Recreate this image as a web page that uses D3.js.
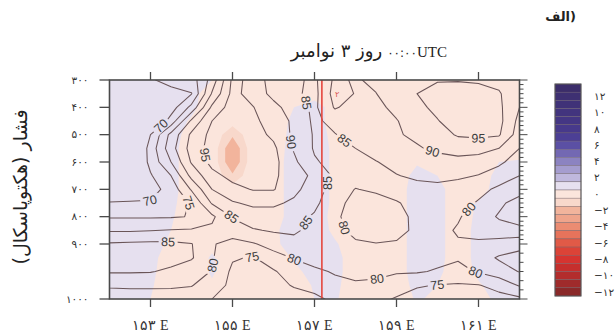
<!DOCTYPE html>
<html><head><meta charset="utf-8">
<script src="https://cdn.jsdelivr.net/npm/d3@7"></script>
<style>
body{margin:0;background:#fff;}
#wrap{position:relative;width:616px;height:333px;overflow:hidden;}
svg{display:block;position:absolute;left:0;top:0;}
.ov{position:absolute;white-space:nowrap;color:#222;line-height:1;}
.iso{unicode-bidi:isolate;}
</style>
</head><body>
<div id="wrap"><svg id="chart" width="616" height="333"></svg></div>
<script>
// ---------------- data ----------------
const lons = [152,152.5,153,153.5,154,154.5,155,155.5,156,156.5,157,157.5,158,158.5,159,159.5,160,160.5,161,161.5,162];
const pressures = [300,350,400,450,500,550,600,650,700,750,800,850,900,925,950,975,1000];

// relative humidity (%) rows = pressures, columns = lons
const rhRows = [
 [66,67.5,69.5,71.5,72.5,82,96,94,87,86,84,91,89.5,91,93,94.5,94.8,94.8,94.5,93.5,92],
 [64,65.5,67,68.5,69.8,85.5,96.5,93,88.5,86,83.5,92,89.8,89.9,93,95,96,96.5,96.5,95.5,91],
 [62,63,64.5,67.5,76.5,91,97.5,95.2,91.5,87.5,84,90.5,88,89,91,94,96,96.8,97,96,90],
 [61,61.5,63,72,86,95,97.5,96,93,89,84,86.5,87.5,88.5,89.8,92,94.8,97,97,96.5,88.5],
 [60,60.5,70,81.5,91,96.5,98.5,97,94,89,84.5,84.8,87,88.5,89.5,91,93,95.5,96,95.5,87.5],
 [59,61,72,83,92,97,99,97.5,96,89.5,84.5,84,85,87,88.5,89.5,91,92,92,90,85],
 [58,62,71.5,80,90.5,96.5,99,97.5,96.5,91,85.5,83.5,83.5,84.8,86.5,87.5,88,88.5,87.5,86,82.5],
 [60,64,69.5,75,86.5,93.5,96.5,97,96,92,89,84,82.5,83.5,84.8,85.8,86,85.8,84.8,82.5,80],
 [63,66,68,72,80.5,90,93.5,95.3,95.3,91.5,87,83,79.8,81,82.5,83.5,84,83,81.5,79,77],
 [70.5,70.6,70.5,71.5,75.5,85.5,89.5,91,91,89,86,82,78,77.5,79.5,82,83.5,82,79.5,76,73],
 [74.5,74.5,74.5,74.6,75.2,79,85.3,87.5,87.5,86.5,84.5,81,77.5,77,78,81.5,82.5,80.5,77.5,74.5,71.5],
 [79.5,79.5,79.8,80.2,80.5,81,83,84.6,85.5,85.5,84,81,79,77.5,78.5,81,81.5,79.5,78,77,77],
 [85.5,85.8,86,86,85.2,80.5,78,79.5,82,84,83.5,82,80.5,80.2,80.5,81.5,81.5,80.5,81,82,83],
 [87,87.5,87.5,87,85.5,80.5,75.5,74.6,78,80.3,82,83,83.5,83.5,83,82.5,81.5,80.5,83,85.5,87],
 [85.5,85.5,85.3,84,82,79.8,74,72.5,74.5,77.5,79,80.5,81,80.6,80.5,80.5,79.5,78.5,80.5,83,85.2],
 [80.5,80.5,80.5,80.3,80.2,78,73.5,71.5,73,75.5,76.5,78.5,79.5,79.5,77.5,75.5,74.8,74.5,74.8,76.5,80.5],
 [78,78.5,78.5,79,78,75,72,70.5,71,72.5,74,76,77,76.5,74.5,73,72.5,72.5,73,73.5,74]
];

// shaded field (colour-bar units), same grid
const shadeRows = [
 [1,1,1,1,1,0.5,0,0,0,0,0,0,0,0,0,0,0,0,0,0,0],
 [1,1,1,1,0.8,0,0,0,0,0,0,0,0,0,0,0,0,0,0,0,0],
 [1,1,1,1,0.7,0,0,0,0,0.5,1,0,0,0,0,0,0,0,0,0,0],
 [1,1,1,0.9,0.4,0,0,0,0,0.7,1,0,0,0,0,0,0,0,0,0,0],
 [1,1,1,0.8,0.2,0.3,-1.3,0.3,0,0.8,1,0.2,0,0,0,0,0,0,0,0,0],
 [1,1,1,0.8,0,0.3,-2.5,0.3,0,0.9,1,0.3,0,0,0,0,0,0,0,0,0],
 [1,1,1,0.8,0,0.3,-2.5,0.3,0,1,1,0.3,0,0,0,0.4,0,0,0,0.5,0.6],
 [1,1,1,0.8,0,0.3,-1.3,0.3,0,1,1,0.3,0,0,0,0.8,0.5,0,0,0.8,1],
 [1,1,1,0.8,0,0,0,0,0,1,1,0.3,0,0,0,1,0.8,0,0,1,1],
 [1,1,1,0.7,0,0,0,0,0,1,1,0.3,0,0,0,1,0.8,0,0.6,1,1],
 [1,1,1,0.6,0,0,0,0,0,1,1,0.2,0,0,0,1,0.8,0,0.7,1,1],
 [1,1,1,0.5,0,0,0,0,0.3,1,1,0.3,0,0,0,1,0.8,0,0.8,1,1],
 [1,1,0.9,0.3,0,0.3,0,0,0.3,0.9,1,0.6,0,0,0,1,0.8,0,0.8,1,1],
 [1,1,0.8,0,0,0.6,0,0,0,0.6,1,0.8,0,0,0,1,0.8,0,0.8,1,1],
 [1,1,0.7,0,0,0.6,0,0,0,0.3,0.8,0.8,0,0,0,1,0.7,0,0.7,1,1],
 [1,1,0.6,0,0,0.4,0,0,0,0,0.6,0.7,0,0,0,0.8,0.5,0,0.4,0.9,1],
 [1,1,0.5,0,0,0.2,0,0,0,0,0.5,0.6,0,0,0,0.6,0.3,0,0.2,0.7,0.9]
];

const rhLevels = [70,75,80,85,90,95];

// contour label anchors (lon, pressure, level)
const labelLon   = [153.30,152.99,153.96,154.33,156.43,156.84,157.43,156.77,155.01,153.43,154.48,155.48,156.48,157.70,159.89,160.99,157.94,160.79,160.96,158.52,159.99];
const labelP     = [475,750,746,574,527,380,684,820,794,893,938,924,933,527,556,530,830,776,942,962,971];
const labelLevel = [70,70,75,95,90,85,85,85,85,85,80,75,80,85,90,95,80,80,80,80,75];

const markerLon = 157.18;

const xTicks = [153,155,157,159,161];
const xTickLabels = ["۱۵۳ E","۱۵۵ E","۱۵۷ E","۱۵۹ E","۱۶۱ E"];
const yTicks = [300,400,500,600,700,800,900,1000];
const yTickLabels = ["۳۰۰","۴۰۰","۵۰۰","۶۰۰","۷۰۰","۸۰۰","۹۰۰","۱۰۰۰"];

const colorbarValues = [13,12,11,10,9,8,7,6,5,4,3,2,1,0,-1,-2,-3,-4,-5,-6,-7,-8,-9,-10,-11,-12];
const colorbarColors = ["#3b2d6a","#3e3072","#403278","#42347e","#443684","#47398b","#4c3f95","#5b50a4","#7368b3","#8c83c1","#a59dcf","#bfb8dd","#e6e0ef","#fbe5dc","#f8d8cb","#f2b49c","#efa48b","#eb8c72","#e6735b","#e15a47","#dc4337","#d63430","#c62f2d","#b32d2c","#9f2b2b","#8a2929"];
const colorbarTickValues = [12,10,8,6,4,2,0,-2,-4,-6,-8,-10,-12];
const colorbarTickLabels = ["۱۲","۱۰","۸","۶","۴","۲","۰","−۲","−۴","−۶","−۸","−۱۰","−۱۲"];

const titleDigits = "۰۰:۰۰";
const titleUTC = "UTC";
const titleDate = "روز ۳ نوامبر";
const panelWord = "الف";
const panelParen = ")";
const yAxisTitle = "فشار (هکتوپاسکال)";
const markerNote = "۲";

// ---------------- drawing ----------------
const svg = d3.select("#chart");
const wrap = d3.select("#wrap");
const W = 616, H = 333;
const x = d3.scaleLinear().domain([152,162]).range([109.5,519.5]);
const y = d3.scaleLinear().domain([300,900,1000]).range([80,244,299]);
const nx = lons.length, ny = pressures.length;
const x0 = x(152), x1 = x(162), y0 = y(300), y1 = y(1000);

function interp(arr, f){
  const n = arr.length; let i = Math.floor(f);
  i = Math.max(0, Math.min(n-2, i));
  return arr[i] + (arr[i+1]-arr[i])*(f-i);
}
function toPx(pt){ return [x(interp(lons, pt[0]-0.5)), y(interp(pressures, pt[1]-0.5))]; }
function mpPath(mp){
  return mp.coordinates.map(poly => poly.map(ring =>
    "M" + ring.map(p => toPx(p).map(v => v.toFixed(2)).join(",")).join("L") + "Z").join("")).join("");
}

const defs = svg.append("defs");
defs.append("clipPath").attr("id","plotClip").append("rect")
  .attr("x",x0).attr("y",y0).attr("width",x1-x0).attr("height",y1-y0);
const mask = defs.append("mask").attr("id","labelMask")
  .attr("maskUnits","userSpaceOnUse").attr("x",0).attr("y",0).attr("width",W).attr("height",H);
mask.append("rect").attr("width",W).attr("height",H).attr("fill","white");

const colorOf = v => colorbarColors[colorbarValues.indexOf(v)];

// shading
const shadeThresholds = d3.range(-12.5, 13, 1);
const shadeContours = d3.contours().size([nx,ny]).thresholds(shadeThresholds)(shadeRows.flat());
svg.append("g").attr("clip-path","url(#plotClip)")
  .selectAll("path").data(shadeContours.filter(c => c.coordinates.length))
  .join("path")
  .attr("d", mpPath)
  .attr("fill", c => colorOf(Math.round(c.value + 0.5)))
  .attr("fill-rule","evenodd");

// contour lines
const lineContours = d3.contours().size([nx,ny]).thresholds(rhLevels)(rhRows.flat());
const gLines = svg.append("g").attr("clip-path","url(#plotClip)");
gLines.append("g").attr("mask","url(#labelMask)")
  .selectAll("path").data(lineContours).join("path")
  .attr("d", mpPath).attr("fill","none")
  .attr("stroke","#6a5558").attr("stroke-width",1.05).attr("stroke-linejoin","round");

// label placement on contour lines
const eps = 1e-6;
const inside = p => p[0] >= 0.5-eps && p[0] <= nx-0.5+eps && p[1] >= 0.5-eps && p[1] <= ny-0.5+eps;
function placeLabel(lon, p, level){
  const target = [x(lon), y(p)];
  const c = lineContours.find(d => d.value === level);
  let best = null;
  c.coordinates.forEach(poly => poly.forEach(ring => {
    for (let i = 0; i < ring.length-1; i++){
      const a = ring[i], b = ring[i+1];
      if (!inside(a) || !inside(b)) continue;
      const A = toPx(a), B = toPx(b);
      const dx = B[0]-A[0], dy = B[1]-A[1];
      const L2 = dx*dx + dy*dy || 1e-9;
      let t = ((target[0]-A[0])*dx + (target[1]-A[1])*dy)/L2;
      t = Math.max(0, Math.min(1, t));
      const Q = [A[0]+t*dx, A[1]+t*dy];
      const d = Math.hypot(Q[0]-target[0], Q[1]-target[1]);
      if (!best || d < best.d){
        const pa = (i > 0 && inside(ring[i-1])) ? toPx(ring[i-1]) : A;
        const pb = (i+2 < ring.length && inside(ring[i+2])) ? toPx(ring[i+2]) : B;
        let ang = Math.atan2(pb[1]-pa[1], pb[0]-pa[0]) * 180/Math.PI;
        if (ang > 90) ang -= 180; if (ang < -90) ang += 180;
        best = {d, Q, ang};
      }
    }
  }));
  return best;
}
const gLab = svg.append("g");
labelLevel.forEach((lv, k) => {
  const r = placeLabel(labelLon[k], labelP[k], lv);
  if (!r) return;
  const tr = `translate(${r.Q[0].toFixed(2)},${r.Q[1].toFixed(2)}) rotate(${r.ang.toFixed(1)})`;
  mask.append("rect").attr("x",-9.5).attr("y",-5.5).attr("width",19).attr("height",11)
    .attr("fill","black").attr("transform",tr);
  gLab.append("text").attr("transform",tr)
    .attr("text-anchor","middle").attr("dy","0.36em")
    .attr("font-family","Liberation Sans, Arial, sans-serif").attr("font-size",12.5)
    .attr("fill","#3d3d3d").text(lv);
});

// marker line
svg.append("line").attr("x1",x(markerLon)).attr("x2",x(markerLon)).attr("y1",y0).attr("y2",y1)
  .attr("stroke","#e5463d").attr("stroke-width",1.6);
svg.append("text").attr("x",x(markerLon)+13).attr("y",y(300)+17)
  .attr("font-family","DejaVu Sans").attr("font-size",8).attr("fill","#d9534f").text(markerNote);

// frame and axes
const axisColor = "#4a4a4a";
svg.append("rect").attr("x",x0).attr("y",y0).attr("width",x1-x0).attr("height",y1-y0)
  .attr("fill","none").attr("stroke",axisColor).attr("stroke-width",1.6);

svg.append("g").selectAll("line").data(yTicks).join("line")
  .attr("x1",x0-10).attr("x2",x0).attr("y1",d=>y(d)).attr("y2",d=>y(d))
  .attr("stroke",axisColor).attr("stroke-width",1.3);
svg.append("g").selectAll("text").data(yTicks).join("text")
  .attr("x",x0-21).attr("y",d=>y(d)).attr("dy","0.35em").attr("text-anchor","end")
  .attr("font-family","DejaVu Sans").attr("font-size",10.5).attr("fill","#333")
  .text((d,i)=>yTickLabels[i]);

svg.append("g").selectAll("line").data(xTicks).join("line")
  .attr("x1",d=>x(d)).attr("x2",d=>x(d)).attr("y1",y1).attr("y2",y1+8)
  .attr("stroke",axisColor).attr("stroke-width",1.3);
svg.append("g").selectAll("line").data(xTicks).join("line")
  .attr("x1",d=>x(d)).attr("x2",d=>x(d)).attr("y1",y0).attr("y2",y0-8)
  .attr("stroke",axisColor).attr("stroke-width",1.3);
svg.append("g").selectAll("text").data(xTicks).join("text")
  .attr("x",d=>x(d)).attr("y",330).attr("text-anchor","middle")
  .attr("font-family","Liberation Serif, serif").attr("font-size",14).attr("fill","#333")
  .text((d,i)=>xTickLabels[i]);

const rightTicks = d3.range(0, 43).map(i => ({p: 300 + i*100/6, major: i % 6 === 0}));
svg.append("g").selectAll("line").data(rightTicks).join("line")
  .attr("x1",x1).attr("x2",d=>x1+(d.major?8:4)).attr("y1",d=>y(d.p)).attr("y2",d=>y(d.p))
  .attr("stroke",axisColor).attr("stroke-width",1);

// y-axis title
svg.append("text").attr("transform","translate(27,187) rotate(-90)").attr("text-anchor","middle")
  .attr("font-family","DejaVu Sans").attr("font-size",19).attr("fill","#222").text(yAxisTitle);

// colour bar
const cb = d3.scaleLinear().domain([13.5,-12.5]).range([84,296]);
const cbx = 555, cbw = 26;
svg.append("g").selectAll("rect").data(colorbarValues).join("rect")
  .attr("x",cbx).attr("width",cbw).attr("y",d=>cb(d+0.5)).attr("height",d=>cb(d-0.5)-cb(d+0.5))
  .attr("fill",(d,i)=>colorbarColors[i]).attr("stroke","#6d5f66").attr("stroke-width",0.4);
svg.append("rect").attr("x",cbx).attr("y",cb(13.5)).attr("width",cbw).attr("height",cb(-12.5)-cb(13.5))
  .attr("fill","none").attr("stroke","#555").attr("stroke-width",1);
svg.append("g").selectAll("text").data(colorbarTickValues).join("text")
  .attr("x",594).attr("y",d=>cb(d)).attr("dy","0.35em")
  .attr("font-family","DejaVu Sans").attr("font-size",10.5).attr("fill","#333")
  .text((d,i)=>colorbarTickLabels[i]);

// header texts as HTML, each run isolated so the visual order is fixed
const title = wrap.append("div").attr("class","ov").attr("dir","ltr")
  .style("right", (W-447)+"px").style("top","42px");
title.append("span").attr("class","iso")
  .style("font-family","DejaVu Sans").style("font-size","18px").text(titleDate);
title.append("span").style("display","inline-block").style("width","5px");
title.append("span").attr("class","iso")
  .style("font-family","DejaVu Sans").style("font-size","12px").text(titleDigits);
title.append("span").attr("class","iso")
  .style("font-family","Liberation Serif, serif").style("font-size","15px").text(titleUTC);

const panel = wrap.append("div").attr("class","ov").attr("dir","ltr")
  .style("right", (W-576)+"px").style("top","10px")
  .style("font-family","DejaVu Sans").style("font-weight","bold").style("font-size","13px");
panel.append("span").attr("class","iso").text(panelWord);
panel.append("span").attr("class","iso").text(panelParen);
</script>
</body></html>
